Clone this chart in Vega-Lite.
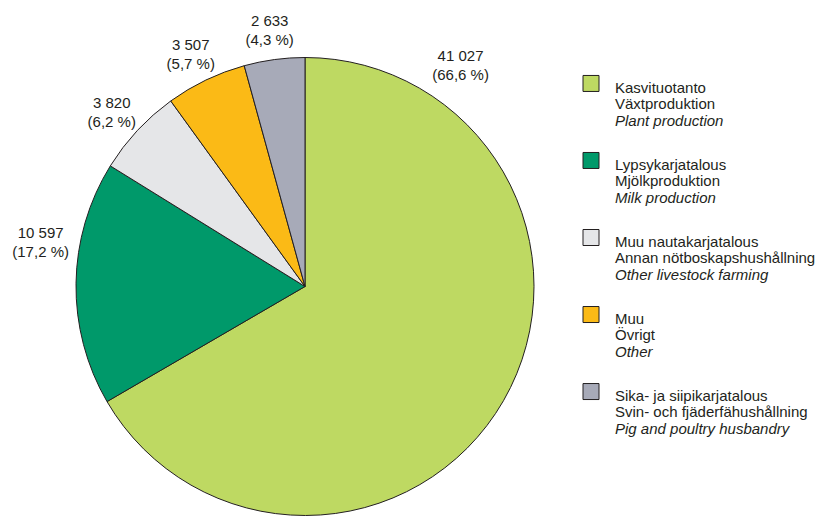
{
  "$schema": "https://vega.github.io/schema/vega-lite/v6.json",
  "padding": {"left": 12, "top": 13.5, "right": 0, "bottom": 0},
  "background": "white",
  "bounds": "flush",
  "spacing": 0,
  "config": {"view": {"stroke": null}, "font": "Liberation Sans", "text": {"font": "Liberation Sans"}},
  "datasets": {
    "shares": [
      {"key": "Plant", "ord": 1, "value": 41027, "pct": 66.6, "fi": "Kasvituotanto", "sv": "Växtproduktion", "en": "Plant production"},
      {"key": "Milk", "ord": 2, "value": 10597, "pct": 17.2, "fi": "Lypsykarjatalous", "sv": "Mjölkproduktion", "en": "Milk production"},
      {"key": "OtherLivestock", "ord": 3, "value": 3820, "pct": 6.2, "fi": "Muu nautakarjatalous", "sv": "Annan nötboskapshushållning", "en": "Other livestock farming"},
      {"key": "Other", "ord": 4, "value": 3507, "pct": 5.7, "fi": "Muu", "sv": "Övrigt", "en": "Other"},
      {"key": "Pig", "ord": 5, "value": 2633, "pct": 4.3, "fi": "Sika- ja siipikarjatalous", "sv": "Svin- och fjäderfähushållning", "en": "Pig and poultry husbandry"}
    ]
  },
  "hconcat": [
    {
      "width": 572,
      "height": 460,
      "data": {"name": "shares"},
      "transform": [
        {"calculate": "[replace(format(datum.value, ','), ',', ' '), '(' + replace(format(datum.pct, '.1f'), '.', ',') + ' %)']", "as": "label"}
      ],
      "layer": [
        {
          "mark": {"type": "arc", "outerRadius": 229, "stroke": "#231F20", "strokeWidth": 1},
          "encoding": {
            "theta": {"field": "value", "type": "quantitative", "stack": true},
            "order": {"field": "ord", "type": "quantitative"},
            "color": {
              "field": "key", "type": "nominal", "legend": null,
              "scale": {
                "domain": ["Plant", "Milk", "OtherLivestock", "Other", "Pig"],
                "range": ["#BED962", "#00996A", "#E5E6E8", "#FBBA16", "#A7AAB8"]
              }
            }
          }
        },
        {
          "mark": {"type": "text", "radius": 264, "dy": -3.5, "align": "center", "baseline": "middle", "fontSize": 15, "lineHeight": 19, "color": "#231F20"},
          "encoding": {
            "theta": {"field": "value", "type": "quantitative", "stack": true},
            "order": {"field": "ord", "type": "quantitative"},
            "text": {"field": "label"},
            "opacity": {"condition": {"test": "datum.key === 'Plant' || datum.key === 'Milk'", "value": 0}, "value": 1}
          }
        },
        {
          "transform": [{"filter": "datum.key === 'Plant'"}],
          "mark": {"type": "text", "theta": 0.614, "radius": 270, "dy": -9.5, "align": "center", "baseline": "middle", "fontSize": 15, "lineHeight": 19, "color": "#231F20"},
          "encoding": {"text": {"field": "label"}}
        },
        {
          "transform": [{"filter": "datum.key === 'Milk'"}],
          "mark": {"type": "text", "theta": 4.877, "radius": 268, "dy": -9.5, "align": "center", "baseline": "middle", "fontSize": 15, "lineHeight": 19, "color": "#231F20"},
          "encoding": {"text": {"field": "label"}}
        }
      ]
    },
    {
      "width": 24,
      "height": 362,
      "data": {"name": "shares"},
      "transform": [{"calculate": "[datum.fi, datum.sv]", "as": "lines"}],
      "encoding": {
        "y": {
          "field": "key", "type": "nominal", "axis": null,
          "sort": ["Plant", "Milk", "OtherLivestock", "Other", "Pig"],
          "scale": {"type": "point", "padding": 0.35}
        }
      },
      "layer": [
        {
          "mark": {"type": "square", "size": 256, "stroke": "#231F20", "strokeWidth": 1, "opacity": 1},
          "encoding": {
            "x": {"datum": "symbol", "type": "nominal", "axis": null, "scale": {"type": "point", "domain": ["symbol", "text"], "padding": 0}},
            "color": {"field": "key", "type": "nominal", "legend": null}
          }
        },
        {
          "mark": {"type": "text", "align": "left", "baseline": "alphabetic", "dy": 9.5, "fontSize": 15, "lineHeight": 16.3, "color": "#231F20"},
          "encoding": {
            "x": {"datum": "text", "type": "nominal", "axis": null, "scale": {"type": "point", "domain": ["symbol", "text"], "padding": 0}},
            "text": {"field": "lines"}
          }
        },
        {
          "mark": {"type": "text", "align": "left", "baseline": "alphabetic", "dy": 42.1, "fontSize": 15, "fontStyle": "italic", "color": "#231F20"},
          "encoding": {
            "x": {"datum": "text", "type": "nominal", "axis": null, "scale": {"type": "point", "domain": ["symbol", "text"], "padding": 0}},
            "text": {"field": "en"}
          }
        }
      ]
    }
  ]
}
